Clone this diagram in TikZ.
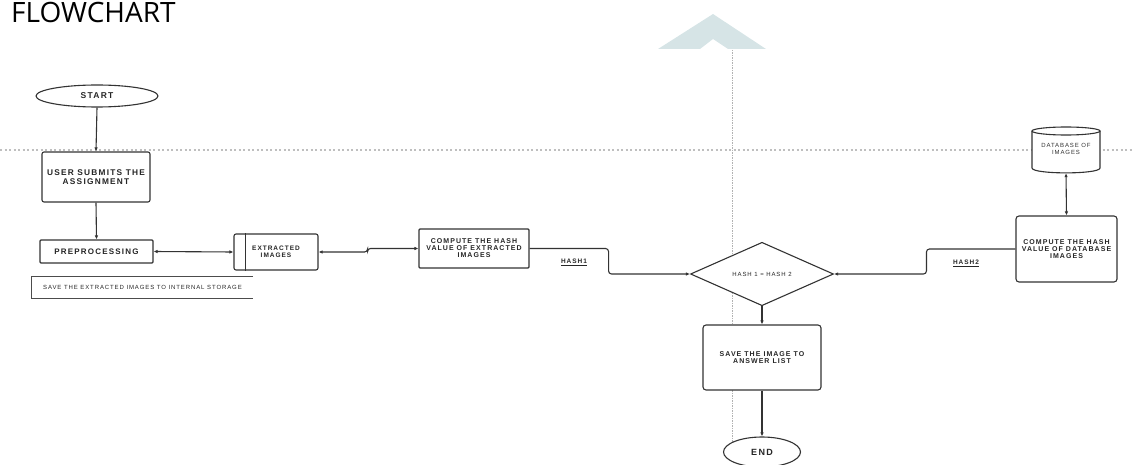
\documentclass[tikz,border=0pt]{standalone}
\usepackage{fontspec}
\setmainfont{Liberation Sans}
\newfontfamily\titlefont{Open Sans}
\newfontfamily\bxfont[LetterSpace=15]{Liberation Sans}
\usetikzlibrary{shapes.geometric,arrows.meta}
\definecolor{wmark}{RGB}{214,228,230}
\begin{document}
\begin{tikzpicture}[x=1pt,y=-1pt,
  ln/.style={draw=black!80,line width=1.1pt},
  box/.style={ln,rectangle,rounded corners=2pt,inner sep=1pt,fill=white},
  txt/.style={font=\bxfont\bfseries\fontsize{7}{7}\selectfont,align=center,text=black!85},
  arr/.style={ln,-{Latex[length=4pt,width=3.5pt]}},
  darr/.style={ln,{Latex[length=4pt,width=3.5pt]}-{Latex[length=4pt,width=3.5pt]}},
  hlabel/.style={font=\bxfont\bfseries\fontsize{6.5}{6.5}\selectfont,text=black!85,inner sep=1pt}
]
\useasboundingbox (0,0) rectangle (1132,465);
% background marks
\fill[wmark] (658,49) -- (713,14) -- (766,49) -- (728,49) -- (713,39) -- (700,49) -- cycle;
\draw[black!25,line width=1.2pt,dash pattern=on 2pt off 2.5pt] (0,150) -- (1132,150);
\draw[black!30,line width=0.6pt,dash pattern=on 1.5pt off 1pt] (732,50) -- (732,458);
% title
\node[anchor=base west,inner sep=0pt,font=\titlefont\fontsize{28}{28}\selectfont] (title) at (11,23) {FLOWCHART};
% nodes
\node[ln,ellipse,minimum width=122pt,minimum height=22pt,inner sep=0pt,fill=white,txt,font=\bxfont\bfseries\fontsize{8.5}{8.5}\selectfont] (start) at (97,96) {START};
\node[box,minimum width=108pt,minimum height=50pt,txt,font=\bxfont\bfseries\fontsize{8.3}{8.5}\selectfont] (user) at (96,177) {USER SUBMITS THE\\ASSIGNMENT};
\node[box,rounded corners=1pt,minimum width=113pt,minimum height=23pt,txt,font=\bxfont\bfseries\fontsize{8}{8}\selectfont] (pre) at (96.5,251.5) {PREPROCESSING};
\node[box,minimum width=84pt,minimum height=36pt,txt,font=\bxfont\bfseries\fontsize{6.5}{7.5}\selectfont] (ext) at (276,252) {EXTRACTED\\IMAGES};
\draw[ln] ([xshift=12pt]ext.north west) -- ([xshift=12pt]ext.south west);
\node[minimum width=221pt,minimum height=21pt,inner sep=0pt,font=\bxfont\fontsize{6}{6}\selectfont,text=black!85] (note) at (142.5,287.5) {SAVE THE EXTRACTED IMAGES TO INTERNAL STORAGE};
\draw[black!70,line width=0.9pt] (note.north east) -- (note.north west) -- (note.south west) -- (note.south east);
\node[box,rounded corners=1pt,minimum width=110pt,minimum height=39pt,txt] (c1) at (474,248.5) {COMPUTE THE HASH\\VALUE OF EXTRACTED\\IMAGES};
\node[ln,diamond,minimum width=143pt,minimum height=50pt,inner sep=0pt,fill=white,font=\bxfont\fontsize{6}{6}\selectfont,text=black!85] (dia) at (762,274) {HASH 1 = HASH 2};
\node[box,rounded corners=3pt,minimum width=101pt,minimum height=66pt,txt] (c2) at (1066.5,249) {COMPUTE THE HASH\\VALUE OF DATABASE\\IMAGES};
% database cylinder
\node[minimum width=68pt,minimum height=46pt,inner sep=0pt] (db) at (1066,150) {};
\draw[ln,fill=white] (1032,131) -- (1032,168) .. controls (1032,174.5) and (1100,174.5) .. (1100,168) -- (1100,131);
\draw[ln] (1066,131) ellipse [x radius=34pt,y radius=4pt];
\node[font=\bxfont\fontsize{6}{6.8}\selectfont,align=center,text=black!80] (dbtxt) at (1066,149) {DATABASE OF\\IMAGES};
\node[box,rounded corners=3pt,minimum width=118pt,minimum height=65pt,txt] (save) at (762,357.5) {SAVE THE IMAGE TO\\ANSWER LIST};
\node[ln,ellipse,minimum width=77pt,minimum height=30pt,inner sep=0pt,fill=white,txt,font=\bxfont\bfseries\fontsize{9}{9}\selectfont] (end) at (762,452) {END};
% connectors
\draw[arr] (start.south) -- (user.north);
\draw[arr] (user.south) -- (pre.north);
\draw[darr] (pre.east) -- (ext.west);
\draw[darr,rounded corners=3pt] (ext.east) -- ++(49,0) |- (c1.west);
\draw[arr,rounded corners=3pt] (c1.east) -- ++(79,0) |- (dia.west);
\draw[arr,rounded corners=3pt] (c2.west) -- ++(-89,0) |- (dia.east);
\draw[darr] (db.south) -- (c2.north);
\draw[arr] (dia.south) -- (save.north);
\draw[arr] (save.south) -- (end.north);
% labels
\node[hlabel] (h1) at (574,262) {\underline{HASH1}};
\node[hlabel] (h2) at (966,263) {\underline{HASH2}};
\end{tikzpicture}
\end{document}
